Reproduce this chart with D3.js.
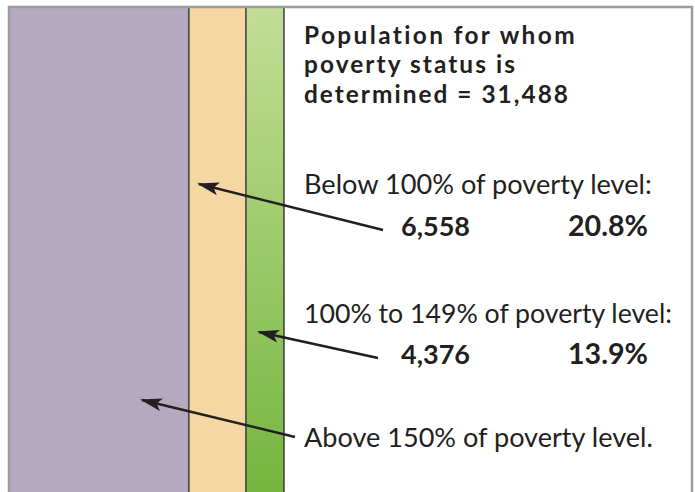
<!DOCTYPE html>
<html>
<head>
<meta charset="utf-8">
<script src="https://cdn.jsdelivr.net/npm/d3@7"></script>
<style>
html,body{margin:0;padding:0;background:#fff;}
svg{display:block;}
text{font-family:"Source Sans Pro","Lato",sans-serif;fill:#231f20;}
</style>
</head>
<body>
<svg id="chart" width="695" height="492"></svg>
<script>
// ---- data ----
const categories = ["Above 150% of poverty level.", "Below 100% of poverty level:", "100% to 149% of poverty level:"];
const counts = [20554, 6558, 4376];
const percents = [65.3, 20.8, 13.9];
const total = 31488;
const titleLines = ["Population for whom", "poverty status is", "determined = 31,488"];
const countLabels = ["20,554", "6,558", "4,376"];
const pctLabels = ["65.3%", "20.8%", "13.9%"];

(function(){
const W = 695, H = 492;
const svg = d3.select("#chart");
const defs = svg.append("defs");

const grad = defs.append("linearGradient").attr("id","greenGrad").attr("x1",0).attr("y1",0).attr("x2",0).attr("y2",1);
grad.append("stop").attr("offset","0%").attr("stop-color","#c2de96");
grad.append("stop").attr("offset","100%").attr("stop-color","#74b53e");

defs.append("marker").attr("id","arrow")
  .attr("viewBox","0 0 22 14").attr("refX",20).attr("refY",7)
  .attr("markerWidth",22).attr("markerHeight",14).attr("markerUnits","userSpaceOnUse")
  .attr("orient","auto")
  .append("path").attr("d","M22,7 L0,0.5 L5,7 L0,13.5 Z").attr("fill","#231f20");

const fills = ["#b3aac0", "#f5d7a4", "url(#greenGrad)"];

const x = d3.scaleLinear().domain([0, total]).range([10, 284]);
let cum = 0;
const stack = counts.map((c,i)=>{ const s = {x0:cum, x1:cum+c, i}; cum += c; return s; });

const y0 = 8;
svg.selectAll("rect.band").data(stack).enter().append("rect")
  .attr("class","band")
  .attr("x", d=>x(d.x0)).attr("y", y0)
  .attr("width", d=>x(d.x1)-x(d.x0)).attr("height", H - y0 + 5)
  .attr("fill", d=>fills[d.i]);

svg.selectAll("line.div").data(stack).enter().append("line")
  .attr("class","div")
  .attr("x1", d=>x(d.x1)).attr("x2", d=>x(d.x1))
  .attr("y1", y0).attr("y2", H+2)
  .attr("stroke","#333").attr("stroke-width",1.4);

svg.append("path")
  .attr("d", `M9,${H+5} L9,7 L692,7 L692,${H+5}`)
  .attr("fill","none").attr("stroke","#9d9d9d").attr("stroke-width",2.5);

function fit(sel, targetW, maxFs){
  const n = sel.node();
  const fs = parseFloat(sel.attr("font-size"));
  const w = n.getComputedTextLength();
  let nfs = fs*targetW/w;
  if(maxFs && nfs > maxFs){
    nfs = maxFs;
    sel.attr("font-size", nfs.toFixed(2));
    const w2 = n.getComputedTextLength();
    const chars = sel.text().length;
    sel.attr("letter-spacing", ((targetW - w2)/Math.max(1,chars-1)).toFixed(3));
  } else {
    sel.attr("font-size", nfs.toFixed(2));
  }
}

const tx = 304;
const titleBase = [43.5, 73, 102.5];
const titleW = [271, 211, 264];
titleLines.forEach((t,i)=>{
  const s = svg.append("text").attr("x",tx).attr("y",titleBase[i])
    .attr("font-size",24).attr("font-weight",700).text(t);
  fit(s, titleW[i], 24.4);
});

const blocks = [
  {i:1, labelY:194, valY:236, labelW:348, arrow:[[383,230],[199,184]]},
  {i:2, labelY:323, valY:364, labelW:368, arrow:[[378,358],[259,332]]},
  {i:0, labelY:447, valY:null, labelW:349, arrow:[[295,437],[142,400]]}
];
blocks.forEach(b=>{
  const s = svg.append("text").attr("x",tx).attr("y",b.labelY).attr("font-size",24).text(categories[b.i]);
  fit(s, b.labelW);
  if(b.valY){
    const c = svg.append("text").attr("x",401).attr("y",b.valY).attr("font-size",24).attr("font-weight",700).text(countLabels[b.i]);
    fit(c, 69);
    const p = svg.append("text").attr("x",568).attr("y",b.valY).attr("font-size",24).attr("font-weight",700).text(pctLabels[b.i]);
    fit(p, 80);
  }
  svg.append("line")
    .attr("x1",b.arrow[0][0]).attr("y1",b.arrow[0][1])
    .attr("x2",b.arrow[1][0]).attr("y2",b.arrow[1][1])
    .attr("stroke","#231f20").attr("stroke-width",2.5)
    .attr("marker-end","url(#arrow)");
});
})();
</script>
</body>
</html>
